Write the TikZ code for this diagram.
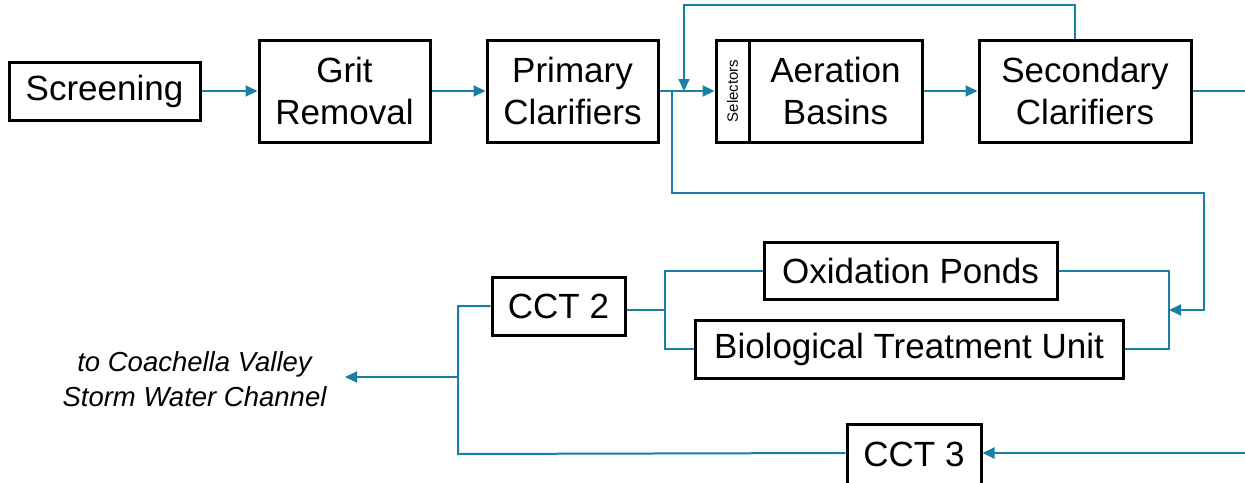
\documentclass[tikz,border=0pt]{standalone}
\usepackage{fontspec}
\setmainfont{Liberation Sans}
\usetikzlibrary{arrows.meta}
\definecolor{flow}{RGB}{23,128,163}
\tikzset{
  box/.style={draw=black, line width=3pt, inner sep=0pt, align=center,
    font=\fontsize{35}{42}\selectfont},
  conn/.style={draw=flow, line width=2pt},
  arr/.style={conn, -{Triangle[length=12pt,width=11pt]}},
}
\begin{document}
\begin{tikzpicture}[x=1pt,y=-1pt]
\useasboundingbox (0,0) rectangle (1245,482);
% process boxes
\node[box, minimum width=191pt, minimum height=58pt] (scr) at (104.5,91) {Screening};
\node[box, minimum width=171pt, minimum height=102pt] (grit) at (344.5,91) {Grit\\Removal};
\node[box, minimum width=171pt, minimum height=102pt] (prim) at (572.5,91) {Primary\\Clarifiers};
\node[box, minimum width=33pt, minimum height=102pt] (sel) at (732.5,91) {};
\node[rotate=90, font=\fontsize{15}{18}\selectfont, inner sep=0pt] (selt) at (sel.center) {Selectors};
\node[box, minimum width=173pt, minimum height=102pt] (aer) at (835.5,91) {Aeration\\Basins};
\node[box, minimum width=212pt, minimum height=102pt] (sec) at (1085,91) {Secondary\\Clarifiers};
\node[box, minimum width=293pt, minimum height=57pt] (ox) at (910.5,270.5) {Oxidation Ponds};
\node[box, minimum width=428pt, minimum height=58pt] (btu) at (909,349) {Biological Treatment Unit};
\node[box, minimum width=133pt, minimum height=58pt] (cct2) at (558.5,306) {CCT 2};
\node[box, minimum width=134pt, minimum height=60pt] (cct3) at (914,454) {CCT 3};
\node[align=center, inner sep=0pt, font=\fontsize{27.5}{35}\itshape] (out) at (194.5,379)
  {to Coachella Valley\\Storm Water Channel};
% coordinates
\coordinate (eff) at (1245,91);
\coordinate (ret) at (1075,5);
\coordinate (jin) at (684,91);
\coordinate (jbr) at (672,91);
\coordinate (br1) at (672,193);
\coordinate (br2) at (1204,193);
\coordinate (br3) at (1204,310);
\coordinate (rb) at (1169,310);
\coordinate (lb) at (665,310);
\coordinate (jl) at (458,377);
\coordinate (outtip) at (345,377);
\coordinate (in3) at (1245,453);
% main line
\draw[arr] (scr) -- (grit);
\draw[arr] (grit) -- (prim);
\draw[arr] (prim) -- (sel);
\draw[arr] (aer) -- (sec);
\draw[conn] (sec.east) -- (eff);
% return sludge
\draw[arr] (sec.north -| ret) -- (ret) -- (ret -| jin) -- (jin);
% branch to ponds
\draw[arr] (jbr) -- (br1) -- (br2) -- (br3) -- (rb);
\draw[conn] (ox.east) -- (ox.east -| rb) -- (btu.east -| rb) -- (btu.east);
\draw[conn] (ox.west) -- (ox.west -| lb) -- (btu.west -| lb) -- (btu.west);
\draw[conn] (cct2.east |- lb) -- (lb);
% to channel
\draw[conn] (cct2.west) -- (cct2.west -| jl) -- (cct3.west -| jl |- in3) -- (cct3.west |- in3);
\draw[arr] (jl) -- (outtip);
\draw[arr] (in3) -- (cct3.east |- in3);
\end{tikzpicture}
\end{document}
